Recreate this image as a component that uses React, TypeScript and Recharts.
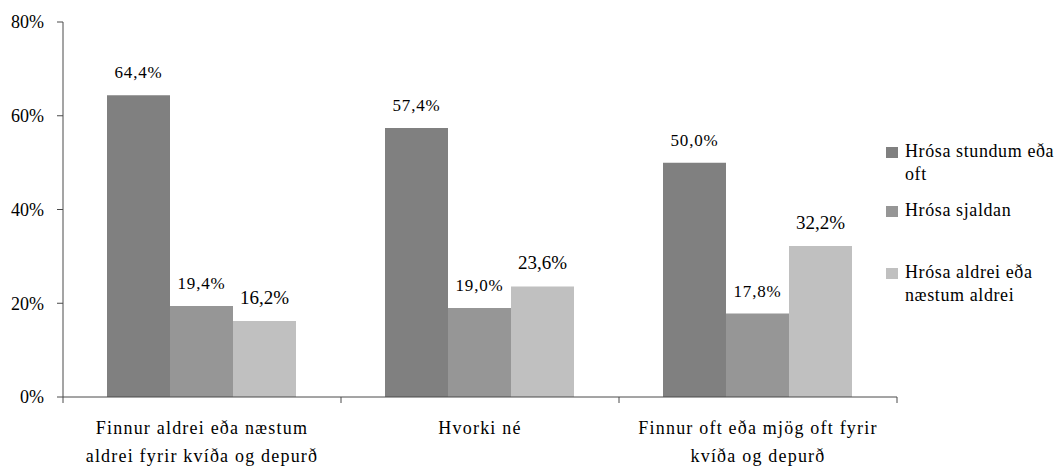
import React from 'react';
import { BarChart, Bar, XAxis, YAxis, LabelList } from 'recharts';

// Flokkar (x-ás) og gildi hverrar raðar í %
const categories = [
    'Finnur aldrei eða næstum\naldrei fyrir kvíða og depurð',
    'Hvorki né',
    'Finnur oft eða mjög oft fyrir\nkvíða og depurð',
];
const seriesNames = ['Hrósa stundum eða oft', 'Hrósa sjaldan', 'Hrósa aldrei eða næstum aldrei'];
const oftenValues = [64.4, 57.4, 50.0];
const seldomValues = [19.4, 19.0, 17.8];
const neverValues = [16.2, 23.6, 32.2];
const yTicks = [0, 20, 40, 60, 80];

const COLORS = ['#808080', '#969696', '#c0c0c0'];
const FONT = '"Liberation Serif", "Times New Roman", serif';
const AXIS_COLOR = '#4a4a4a';

const WIDTH = 1061;
const HEIGHT = 466;
const PLOT_LEFT = 63;
const PLOT_RIGHT = 897;
const BAND = (PLOT_RIGHT - PLOT_LEFT) / categories.length;

const data = categories.map((name, i) => ({
    name,
    often: oftenValues[i],
    seldom: seldomValues[i],
    never: neverValues[i],
}));

const fmt = (v: number) => `${v.toFixed(1).replace('.', ',')}%`;

function CategoryTick(props: any) {
    const { x, y, payload, index } = props;
    const lines = String(payload.value).split('\n');
    const left = x - BAND / 2;
    return (
        <g>
            <line x1={left} x2={left} y1={y} y2={y + 6} stroke={AXIS_COLOR} />
            {index === categories.length - 1 && (
                <line x1={x + BAND / 2} x2={x + BAND / 2} y1={y} y2={y + 6} stroke={AXIS_COLOR} />
            )}
            {lines.map((line, i) => (
                <text
                    key={i}
                    x={x}
                    y={y + 37 + i * 28}
                    textAnchor="middle"
                    fontFamily={FONT}
                    fontSize={18}
                    letterSpacing={1.2}
                    fill="#000"
                >
                    {line}
                </text>
            ))}
        </g>
    );
}

function makeLabel(fontSize: number, spacing: number) {
    return (p: any) => (
        <text
            x={p.x + p.width / 2}
            y={p.y - 17}
            textAnchor="middle"
            fontFamily={FONT}
            fontSize={fontSize}
            letterSpacing={spacing}
            fill="#000"
        >
            {fmt(Number(p.value))}
        </text>
    );
}

// top-stöður fyrir hverja skýringu (eins og í Excel)
const LEGEND_TOPS = [0, 59, 121];

function ChartLegend() {
    return (
        <div style={{ position: 'absolute', left: 886, top: 140, width: 175, height: 170, fontFamily: FONT }}>
            {seriesNames.map((name, i) => (
                <div
                    key={name}
                    style={{ position: 'absolute', left: 0, top: LEGEND_TOPS[i], display: 'flex' }}
                >
                    <div
                        style={{
                            width: 12,
                            height: 11,
                            background: COLORS[i],
                            marginTop: 6.5,
                            marginRight: 7,
                            flex: 'none',
                        }}
                    />
                    <div
                        style={{
                            width: 158,
                            fontSize: 18,
                            lineHeight: '23px',
                            letterSpacing: 0.6,
                            color: '#000',
                        }}
                    >
                        {name}
                    </div>
                </div>
            ))}
        </div>
    );
}

export default function App() {
    return (
        <div style={{ position: 'absolute', left: 0, top: 0, width: WIDTH, height: HEIGHT, background: '#fff' }}>
            <BarChart
                width={WIDTH}
                height={HEIGHT}
                data={data}
                margin={{ top: 22, right: WIDTH - PLOT_RIGHT, bottom: 0, left: 0 }}
                barGap={0}
                barCategoryGap={44}
            >
                <XAxis
                    dataKey="name"
                    height={HEIGHT - 397}
                    tickLine={false}
                    tickSize={0}
                    tickMargin={0}
                    axisLine={{ stroke: AXIS_COLOR }}
                    tick={<CategoryTick />}
                    interval={0}
                />
                <YAxis
                    width={PLOT_LEFT}
                    domain={[0, 80]}
                    ticks={yTicks}
                    tickFormatter={(v) => `${v}%`}
                    tickSize={6}
                    tickMargin={13}
                    axisLine={{ stroke: AXIS_COLOR }}
                    tickLine={{ stroke: AXIS_COLOR }}
                    tick={{ fontFamily: FONT, fontSize: 18, fill: '#000' }}
                />
                <Bar dataKey="often" name={seriesNames[0]} fill={COLORS[0]} isAnimationActive={false}>
                    <LabelList dataKey="often" content={makeLabel(17, 0.8)} />
                </Bar>
                <Bar dataKey="seldom" name={seriesNames[1]} fill={COLORS[1]} isAnimationActive={false}>
                    <LabelList dataKey="seldom" content={makeLabel(17, 0.8)} />
                </Bar>
                <Bar dataKey="never" name={seriesNames[2]} fill={COLORS[2]} isAnimationActive={false}>
                    <LabelList dataKey="never" content={makeLabel(19, 0)} />
                </Bar>
            </BarChart>
            <ChartLegend />
        </div>
    );
}
